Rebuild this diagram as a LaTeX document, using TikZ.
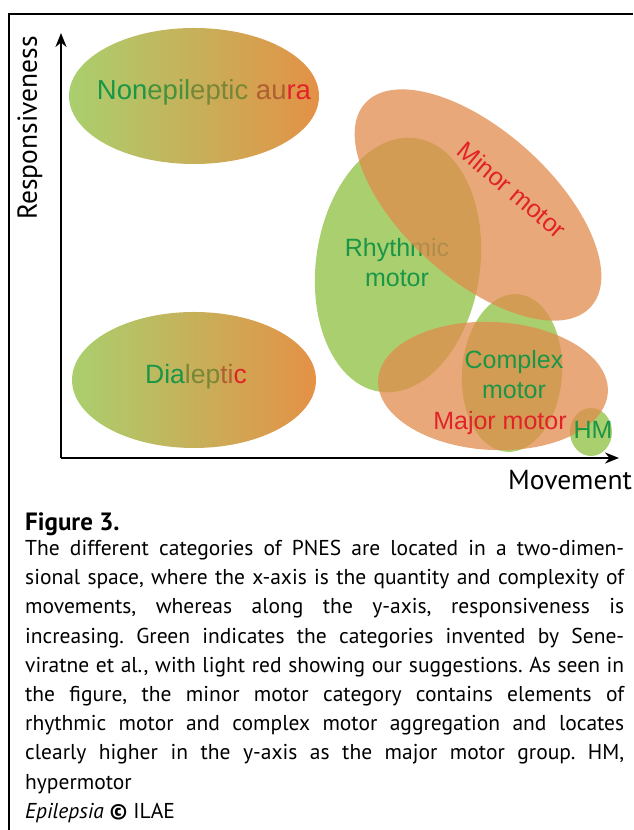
\documentclass[tikz,border=0pt]{standalone}
\usepackage{fontspec}
\setmainfont{Liberation Sans}
\newfontfamily\capfont{PT Sans}
\usetikzlibrary{arrows.meta, positioning, shapes.geometric}

\definecolor{grnfill}{RGB}{170,207,110}
\definecolor{orgfill}{RGB}{225,139,77}
\definecolor{gradend}{RGB}{228,145,70}
\definecolor{grntxt}{RGB}{25,150,70}
\definecolor{grntxtb}{RGB}{70,145,60}
\definecolor{olvtxt}{RGB}{120,135,55}
\definecolor{brntxt}{RGB}{175,95,50}
\definecolor{redtxt}{RGB}{225,35,40}

\begin{document}
\begin{tikzpicture}[x=1pt, y=1pt, >={Stealth[length=14pt, width=11pt]},
    lbl/.style={font=\fontsize{25}{30}\selectfont, align=center, inner sep=0pt},
    gcat/.style={ellipse, fill=grnfill, draw=none, inner sep=0pt},
    rcat/.style={ellipse, fill=orgfill, fill opacity=0.75, draw=none, inner sep=0pt},
    mixcat/.style={ellipse, left color=grnfill, right color=gradend, draw=none, inner sep=0pt},
    axis/.style={line width=2.2pt, ->}]
\useasboundingbox (0,0) rectangle (633,830);
% frame, cut off right and below
\draw[line width=2pt] (9,0) -- (9,816) -- (633,816);

% categories
\node[mixcat, minimum width=250pt, minimum height=136pt] (aura) at (194,734) {};
\node[mixcat, minimum width=244pt, minimum height=136pt] (dial) at (194,450) {};
\node[gcat, minimum width=164pt, minimum height=256pt, rotate=-8] (rhy) at (398,565) {};
\node[gcat, minimum width=100pt, minimum height=158pt, rotate=-4] (cpx) at (512,457) {};
\node[gcat, minimum width=42pt, minimum height=48pt] (hm) at (591,398) {};
\node[lbl, text=grntxt] (rhyt) at (397,567) {Rhythmic\\motor};
\node[rcat, minimum width=304pt, minimum height=148pt, rotate=-42] (minor) at (478,625) {};
\node[rcat, minimum width=230pt, minimum height=128pt, rotate=-3] (major) at (493,444) {};

\node[lbl, font=\fontsize{27.5}{30}\selectfont] (aurat) at (204,738) {\textcolor{grntxt}{Non}\textcolor{grntxtb}{epil}\textcolor{olvtxt}{eptic} \textcolor{brntxt}{au}\textcolor{redtxt}{ra}};
\node[lbl, font=\fontsize{26.5}{30}\selectfont] (dialt) at (196,453) {\textcolor{grntxt}{Dia}\textcolor{olvtxt}{lep}\textcolor{brntxt}{ti}\textcolor{redtxt}{c}};
\node[lbl, text=redtxt, rotate=-40] (minort) at (512,640) {Minor motor};
\node[lbl, text=grntxt] (cpxt) at (514,455) {Complex\\motor};
\node[lbl, text=redtxt] (majort) at (500,407) {Major motor};
\node[lbl, text=grntxt] (hmt) at (593,400) {HM};

% axes
\coordinate (o) at (61,372);
\coordinate (ytip) at (61,797);
\coordinate (xtip) at (619,372);
\draw[axis] (o) -- (ytip);
\draw[axis] (o) -- (xtip);
\node[font=\capfont\fontsize{27.5}{30}\selectfont, rotate=90] (resp) at (30,702) {Responsiveness};
\node[font=\capfont\fontsize{27.5}{30}\selectfont] (mov) at (570,350) {Movement};

% caption
\node[font=\capfont\bfseries\fontsize{25}{28}\selectfont, anchor=base west, inner sep=0pt] (fig) at (25,299) {Figure 3.};
\node[font=\capfont\frenchspacing\fontsize{21.5}{29.2}\selectfont, text width=599pt, align=justify, anchor=north west, inner sep=0pt] (cap) at (25,290)
  {The different categories of PNES are located in a two-dimen-\linebreak
   sional space, where the x-axis is the quantity and complexity of\linebreak
   movements, whereas along the y-axis, responsiveness is\linebreak
   increasing. Green indicates the categories invented by Sene-\linebreak
   viratne et al., with light red showing our suggestions. As seen in\linebreak
   the figure, the minor motor category contains elements of\linebreak
   rhythmic motor and complex motor aggregation and locates\linebreak
   clearly higher in the y-axis as the major motor group. HM,\linebreak
   hypermotor\\
   \textit{Epilepsia} \textbf{©} ILAE};
\end{tikzpicture}
\end{document}
